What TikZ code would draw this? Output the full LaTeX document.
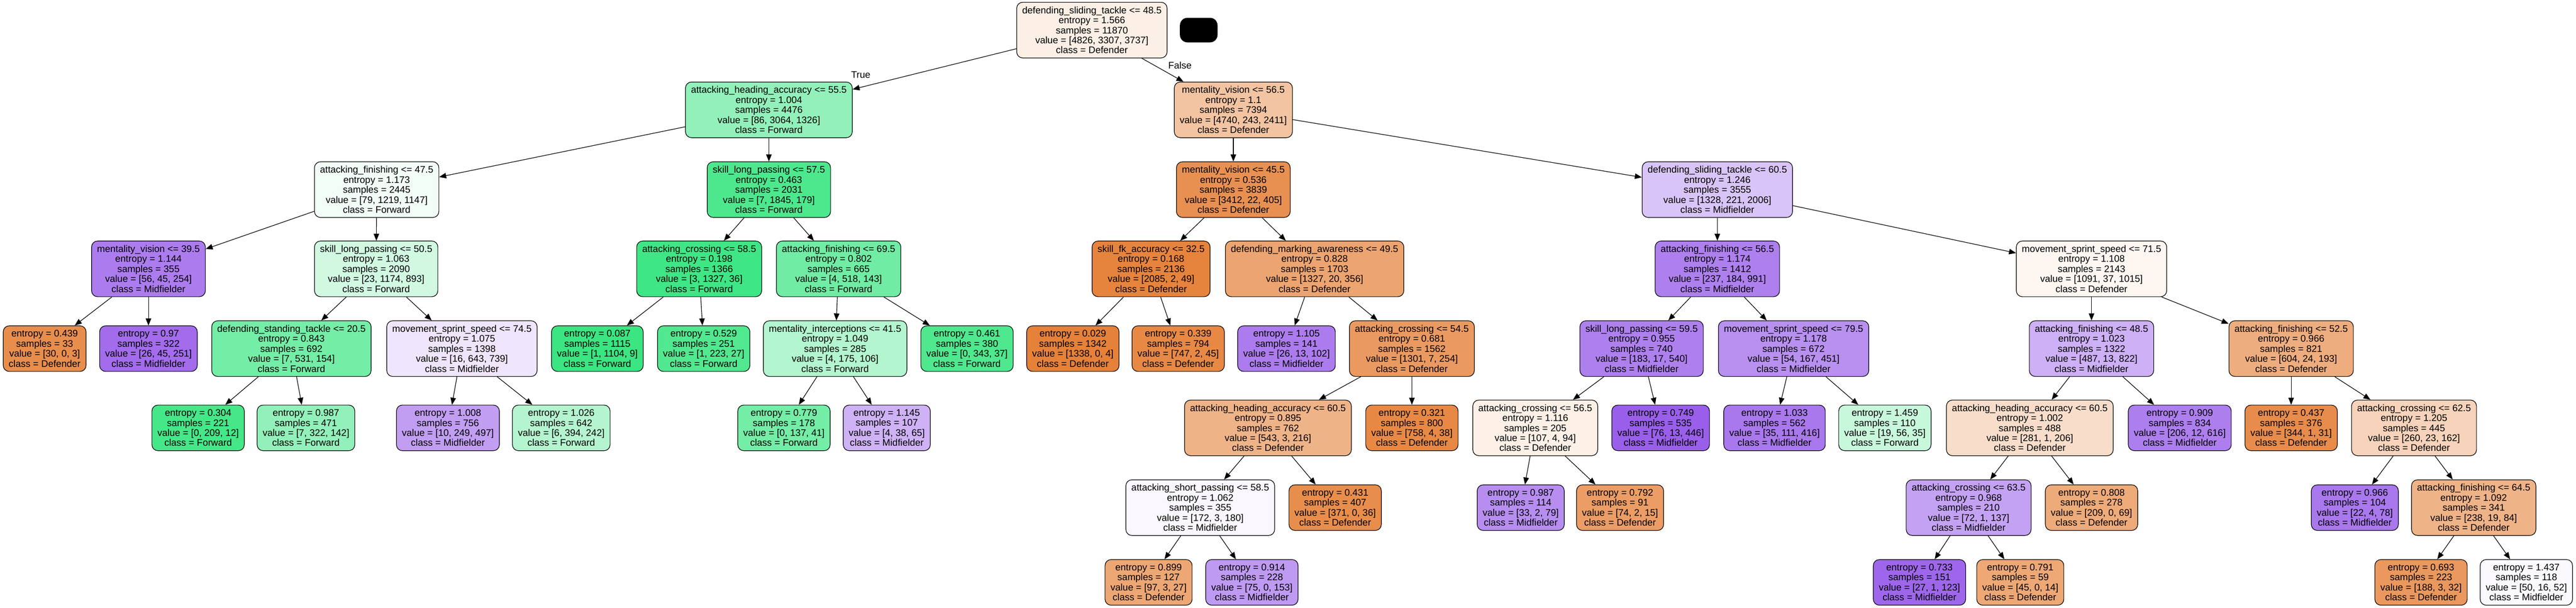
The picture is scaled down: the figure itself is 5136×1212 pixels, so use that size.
\documentclass[tikz,border=0pt]{standalone}
\usepackage{fontspec}
\setmainfont{Liberation Sans}
\usepackage{tikz}
\usetikzlibrary{arrows.meta,shapes}
\definecolor{defc}{RGB}{229,129,57}
\definecolor{fwdc}{RGB}{57,229,129}
\definecolor{midc}{RGB}{129,57,229}
\tikzset{
  basic/.style  = {draw, rectangle, rounded corners=12pt, align=center, line width=1.2pt,
                   inner xsep=11pt, inner ysep=2pt, font=\fontsize{19}{20}\selectfont},
  split/.style  = {basic, minimum height=111pt},
  leaf/.style   = {basic, minimum height=91pt},
  defender/.style   = {fill=defc!#1!white},
  forward/.style    = {fill=fwdc!#1!white},
  midfielder/.style = {fill=midc!#1!white},
  redact/.style = {fill=black, rounded corners=15pt, minimum width=75pt, minimum height=49pt},
  cond/.style   = {font=\fontsize{19}{20}\selectfont},
  link/.style   = {->, line width=1.2pt}
}

\begin{document}
\begin{tikzpicture}[x=1pt, y=-1pt, >={Triangle[length=14pt,width=11pt]}]
\useasboundingbox (0,0) rectangle (5136,1212);

% root of the tree
\node[split, defender=13] (root) at (2177,60) {defending\_sliding\_tackle <= 48.5\\entropy = 1.566\\samples = 11870\\value = [4826, 3307, 3737]\\class = Defender};
\node[redact] (blk) at (2390,60) {};

% depth 1
\node[split, forward=55] (L) at (1533,219) {attacking\_heading\_accuracy <= 55.5\\entropy = 1.004\\samples = 4476\\value = [86, 3064, 1326]\\class = Forward};
\node[split, defender=47] (R) at (2459,219) {mentality\_vision <= 56.5\\entropy = 1.1\\samples = 7394\\value = [4740, 243, 2411]\\class = Defender};

% depth 2
\node[split, forward=6] (LL) at (751,378) {attacking\_finishing <= 47.5\\entropy = 1.173\\samples = 2445\\value = [79, 1219, 1147]\\class = Forward};
\node[split, forward=90] (LR) at (1533,378) {skill\_long\_passing <= 57.5\\entropy = 0.463\\samples = 2031\\value = [7, 1845, 179]\\class = Forward};
\node[split, defender=88] (RL) at (2459,378) {mentality\_vision <= 45.5\\entropy = 0.536\\samples = 3839\\value = [3412, 22, 405]\\class = Defender};
\node[split, midfielder=30] (RR) at (3424,378) {defending\_sliding\_tackle <= 60.5\\entropy = 1.246\\samples = 3555\\value = [1328, 221, 2006]\\class = Midfielder};

% depth 3
\node[split, midfielder=66] (LLL) at (296,536) {mentality\_vision <= 39.5\\entropy = 1.144\\samples = 355\\value = [56, 45, 254]\\class = Midfielder};
\node[split, forward=23] (LLR) at (750,536) {skill\_long\_passing <= 50.5\\entropy = 1.063\\samples = 2090\\value = [23, 1174, 893]\\class = Forward};
\node[split, forward=97] (LRL) at (1394,536) {attacking\_crossing <= 58.5\\entropy = 0.198\\samples = 1366\\value = [3, 1327, 36]\\class = Forward};
\node[split, forward=72] (LRR) at (1672,536) {attacking\_finishing <= 69.5\\entropy = 0.802\\samples = 665\\value = [4, 518, 143]\\class = Forward};
\node[split, defender=98] (RLL) at (2295,536) {skill\_fk\_accuracy <= 32.5\\entropy = 0.168\\samples = 2136\\value = [2085, 2, 49]\\class = Defender};
\node[split, defender=72] (RLR) at (2621,536) {defending\_marking\_awareness <= 49.5\\entropy = 0.828\\samples = 1703\\value = [1327, 20, 356]\\class = Defender};
\node[split, midfielder=64] (RRL) at (3424,536) {attacking\_finishing <= 56.5\\entropy = 1.174\\samples = 1412\\value = [237, 184, 991]\\class = Midfielder};
\node[split, defender=7] (RRR) at (4170,536) {movement\_sprint\_speed <= 71.5\\entropy = 1.108\\samples = 2143\\value = [1091, 37, 1015]\\class = Defender};

% depth 4
\node[leaf, defender=90] (LLLL) at (89,695) {entropy = 0.439\\samples = 33\\value = [30, 0, 3]\\class = Defender};
\node[leaf, midfielder=74] (LLLR) at (296,695) {entropy = 0.97\\samples = 322\\value = [26, 45, 251]\\class = Midfielder};
\node[split, forward=70] (LLRL) at (581,695) {defending\_standing\_tackle <= 20.5\\entropy = 0.843\\samples = 692\\value = [7, 531, 154]\\class = Forward};
\node[split, midfielder=13] (LLRR) at (921,695) {movement\_sprint\_speed <= 74.5\\entropy = 1.075\\samples = 1398\\value = [16, 643, 739]\\class = Midfielder};
\node[leaf, forward=99] (LRLL) at (1191,695) {entropy = 0.087\\samples = 1115\\value = [1, 1104, 9]\\class = Forward};
\node[leaf, forward=88] (LRLR) at (1403,695) {entropy = 0.529\\samples = 251\\value = [1, 223, 27]\\class = Forward};
\node[split, forward=39] (LRRL) at (1665,695) {mentality\_interceptions <= 41.5\\entropy = 1.049\\samples = 285\\value = [4, 175, 106]\\class = Forward};
\node[leaf, forward=89] (LRRR) at (1928,695) {entropy = 0.461\\samples = 380\\value = [0, 343, 37]\\class = Forward};
\node[leaf, defender=100] (RLLL) at (2139,695) {entropy = 0.029\\samples = 1342\\value = [1338, 0, 4]\\class = Defender};
\node[leaf, defender=94] (RLLR) at (2349,695) {entropy = 0.339\\samples = 794\\value = [747, 2, 45]\\class = Defender};
\node[leaf, midfielder=66] (RLRL) at (2565,695) {entropy = 1.105\\samples = 141\\value = [26, 13, 102]\\class = Midfielder};
\node[split, defender=80] (RLRR) at (2815,695) {attacking\_crossing <= 54.5\\entropy = 0.681\\samples = 1562\\value = [1301, 7, 254]\\class = Defender};
\node[split, midfielder=64] (RRLL) at (3273,695) {skill\_long\_passing <= 59.5\\entropy = 0.955\\samples = 740\\value = [183, 17, 540]\\class = Midfielder};
\node[split, midfielder=56] (RRLR) at (3576,695) {movement\_sprint\_speed <= 79.5\\entropy = 1.178\\samples = 672\\value = [54, 167, 451]\\class = Midfielder};
\node[split, midfielder=40] (RRRL) at (4170,695) {attacking\_finishing <= 48.5\\entropy = 1.023\\samples = 1322\\value = [487, 13, 822]\\class = Midfielder};
\node[split, defender=65] (RRRR) at (4568,695) {attacking\_finishing <= 52.5\\entropy = 0.966\\samples = 821\\value = [604, 24, 193]\\class = Defender};

% depth 5
\node[leaf, forward=94] (LLRLL) at (395,853) {entropy = 0.304\\samples = 221\\value = [0, 209, 12]\\class = Forward};
\node[leaf, forward=55] (LLRLR) at (610,853) {entropy = 0.987\\samples = 471\\value = [7, 322, 142]\\class = Forward};
\node[leaf, midfielder=49] (LLRRL) at (893,853) {entropy = 1.008\\samples = 756\\value = [10, 249, 497]\\class = Midfielder};
\node[leaf, forward=38] (LLRRR) at (1119,853) {entropy = 1.026\\samples = 642\\value = [6, 394, 242]\\class = Forward};
\node[leaf, forward=70] (LRRLL) at (1563,853) {entropy = 0.779\\samples = 178\\value = [0, 137, 41]\\class = Forward};
\node[leaf, midfielder=39] (LRRLR) at (1768,853) {entropy = 1.145\\samples = 107\\value = [4, 38, 65]\\class = Midfielder};
\node[split, defender=60] (RLRRL) at (2528,853) {attacking\_heading\_accuracy <= 60.5\\entropy = 0.895\\samples = 762\\value = [543, 3, 216]\\class = Defender};
\node[leaf, defender=94] (RLRRR) at (2815,853) {entropy = 0.321\\samples = 800\\value = [758, 4, 38]\\class = Defender};
\node[split, defender=12] (RRLLL) at (3061,853) {attacking\_crossing <= 56.5\\entropy = 1.116\\samples = 205\\value = [107, 4, 94]\\class = Defender};
\node[leaf, midfielder=81] (RRLLR) at (3311,853) {entropy = 0.749\\samples = 535\\value = [76, 13, 446]\\class = Midfielder};
\node[leaf, midfielder=68] (RRLRL) at (3538,853) {entropy = 1.033\\samples = 562\\value = [35, 111, 416]\\class = Midfielder};
\node[leaf, forward=28] (RRLRR) at (3758,853) {entropy = 1.459\\samples = 110\\value = [19, 56, 35]\\class = Forward};
\node[split, defender=27] (RRRLL) at (4047,853) {attacking\_heading\_accuracy <= 60.5\\entropy = 1.002\\samples = 488\\value = [281, 1, 206]\\class = Defender};
\node[leaf, midfielder=65] (RRRLR) at (4346,853) {entropy = 0.909\\samples = 834\\value = [206, 12, 616]\\class = Midfielder};
\node[leaf, defender=91] (RRRRL) at (4568,853) {entropy = 0.437\\samples = 376\\value = [344, 1, 31]\\class = Defender};
\node[split, defender=35] (RRRRR) at (4813,853) {attacking\_crossing <= 62.5\\entropy = 1.205\\samples = 445\\value = [260, 23, 162]\\class = Defender};

% depth 6
\node[split, midfielder=4] (RLRRLL) at (2393,1012) {attacking\_short\_passing <= 58.5\\entropy = 1.062\\samples = 355\\value = [172, 3, 180]\\class = Midfielder};
\node[leaf, defender=90] (RLRRLR) at (2662,1012) {entropy = 0.431\\samples = 407\\value = [371, 0, 36]\\class = Defender};
\node[leaf, midfielder=57] (RRLLLL) at (3032,1012) {entropy = 0.987\\samples = 114\\value = [33, 2, 79]\\class = Midfielder};
\node[leaf, defender=78] (RRLLLR) at (3230,1012) {entropy = 0.792\\samples = 91\\value = [74, 2, 15]\\class = Defender};
\node[split, midfielder=47] (RRRLLL) at (3925,1012) {attacking\_crossing <= 63.5\\entropy = 0.968\\samples = 210\\value = [72, 1, 137]\\class = Midfielder};
\node[leaf, defender=67] (RRRLLR) at (4170,1012) {entropy = 0.808\\samples = 278\\value = [209, 0, 69]\\class = Defender};
\node[leaf, midfielder=68] (RRRRRL) at (4695,1012) {entropy = 0.966\\samples = 104\\value = [22, 4, 78]\\class = Midfielder};
\node[split, defender=60] (RRRRRR) at (4932,1012) {attacking\_finishing <= 64.5\\entropy = 1.092\\samples = 341\\value = [238, 19, 84]\\class = Defender};

% depth 7
\node[leaf, defender=70] (RLRRLLL) at (2290,1161) {entropy = 0.899\\samples = 127\\value = [97, 3, 27]\\class = Defender};
\node[leaf, midfielder=51] (RLRRLLR) at (2496,1161) {entropy = 0.914\\samples = 228\\value = [75, 0, 153]\\class = Midfielder};
\node[leaf, midfielder=77] (RRRLLLL) at (3827,1161) {entropy = 0.733\\samples = 151\\value = [27, 1, 123]\\class = Midfielder};
\node[leaf, defender=69] (RRRLLLR) at (4028,1161) {entropy = 0.791\\samples = 59\\value = [45, 0, 14]\\class = Defender};
\node[leaf, defender=82] (RRRRRRL) at (4827,1161) {entropy = 0.693\\samples = 223\\value = [188, 3, 32]\\class = Defender};
\node[leaf, midfielder=3] (RRRRRRR) at (5037,1161) {entropy = 1.437\\samples = 118\\value = [50, 16, 52]\\class = Midfielder};

% the edges, parent to children
\draw[link] (root) edge node[cond, pos=0.95, above=14pt] {True} (L)
                   edge node[cond, pos=0.3, right=24pt] {False} (R);
\draw[link] (L) edge (LL) edge (LR);
\draw[link] (R) edge (RL) edge (RR);
\draw[link] (LL) edge (LLL) edge (LLR);
\draw[link] (LR) edge (LRL) edge (LRR);
\draw[link] (RL) edge (RLL) edge (RLR);
\draw[link] (RR) edge (RRL) edge (RRR);
\draw[link] (LLL) edge (LLLL) edge (LLLR);
\draw[link] (LLR) edge (LLRL) edge (LLRR);
\draw[link] (LRL) edge (LRLL) edge (LRLR);
\draw[link] (LRR) edge (LRRL) edge (LRRR);
\draw[link] (RLL) edge (RLLL) edge (RLLR);
\draw[link] (RLR) edge (RLRL) edge (RLRR);
\draw[link] (RRL) edge (RRLL) edge (RRLR);
\draw[link] (RRR) edge (RRRL) edge (RRRR);
\draw[link] (LLRL) edge (LLRLL) edge (LLRLR);
\draw[link] (LLRR) edge (LLRRL) edge (LLRRR);
\draw[link] (LRRL) edge (LRRLL) edge (LRRLR);
\draw[link] (RLRR) edge (RLRRL) edge (RLRRR);
\draw[link] (RRLL) edge (RRLLL) edge (RRLLR);
\draw[link] (RRLR) edge (RRLRL) edge (RRLRR);
\draw[link] (RRRL) edge (RRRLL) edge (RRRLR);
\draw[link] (RRRR) edge (RRRRL) edge (RRRRR);
\draw[link] (RLRRL) edge (RLRRLL) edge (RLRRLR);
\draw[link] (RRLLL) edge (RRLLLL) edge (RRLLLR);
\draw[link] (RRRLL) edge (RRRLLL) edge (RRRLLR);
\draw[link] (RRRRR) edge (RRRRRL) edge (RRRRRR);
\draw[link] (RLRRLL) edge (RLRRLLL) edge (RLRRLLR);
\draw[link] (RRRLLL) edge (RRRLLLL) edge (RRRLLLR);
\draw[link] (RRRRRR) edge (RRRRRRL) edge (RRRRRRR);

\end{tikzpicture}
\end{document}
